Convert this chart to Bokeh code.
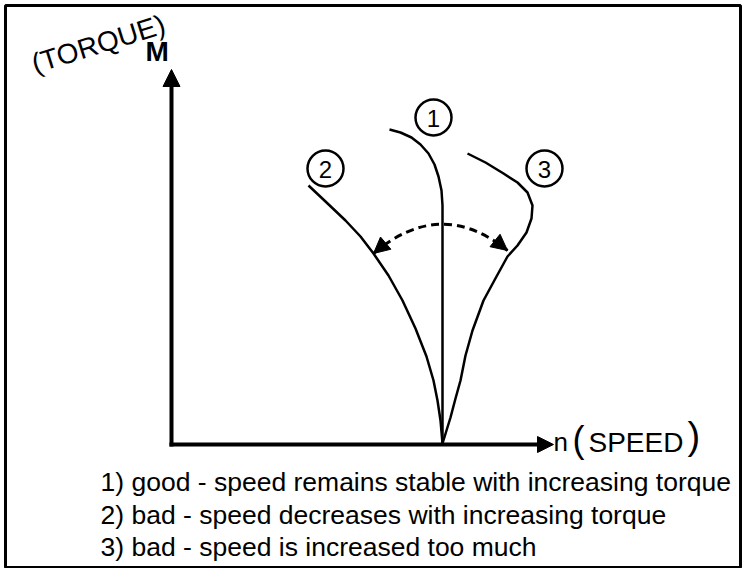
import math
from bokeh.plotting import figure
from bokeh.models import Range1d, Arrow, NormalHead
from bokeh.core.properties import value
from bokeh.embed import file_html
from bokeh.resources import INLINE

# ---- data (diagram coordinates, y grows downward) ----
curve1_x = [389, 400, 411, 420, 428, 434, 438, 441, 442, 442, 442]
curve1_y = [129, 132, 137, 144, 153, 164, 176, 190, 205, 225, 443]

curve2_x = [308, 325, 345, 360, 373, 388, 402, 415, 426, 433, 437, 440, 442]
curve2_y = [185, 201, 220, 236, 253, 275, 300, 328, 356, 380, 400, 420, 443]

curve3_x = [467, 485, 503, 517, 527, 532, 531, 526, 517, 507, 496, 483, 472, 465, 460, 455, 450, 442]
curve3_y = [153, 162, 173, 182, 192, 205, 218, 232, 245, 256, 276, 300, 330, 355, 380, 398, 417, 443]

label_x = [433, 325, 544]
label_y = [117, 168, 168]
label_text = ["1", "2", "3"]

origin = (171, 444)
m_axis_tip = (171, 69)
n_axis_tip = (553, 444)

arc_start = (373, 253)
arc_end = (507, 250)
arc_ctrl = (440, 196)

captions = [
    "1) good - speed remains stable with increasing torque",
    "2) bad - speed decreases with increasing torque",
    "3) bad - speed is increased too much",
]
caption_x = [100, 100, 100]
caption_y = [481, 514, 546]   # vertical centres of the text lines

FONT = value("Liberation Sans")

p = figure(width=742, height=568, x_range=Range1d(5, 740), y_range=Range1d(567, 5),
           output_backend="svg", toolbar_location=None,
           min_border_left=5, min_border_right=2, min_border_top=5, min_border_bottom=1,
           x_axis_location=None, y_axis_location=None)
p.grid.visible = False
p.background_fill_color = "white"
p.border_fill_color = "white"
p.outline_line_color = "black"
p.outline_line_width = 3

# axes with arrows
p.add_layout(Arrow(end=NormalHead(size=17, fill_color="black", line_color="black"),
                   x_start=origin[0], y_start=origin[1] + 2, x_end=m_axis_tip[0], y_end=m_axis_tip[1],
                   line_width=4, line_color="black"))
p.add_layout(Arrow(end=NormalHead(size=16, fill_color="black", line_color="black"),
                   x_start=origin[0] - 2, y_start=origin[1], x_end=n_axis_tip[0], y_end=n_axis_tip[1],
                   line_width=4, line_color="black"))

# curves
p.line(curve1_x, curve1_y, line_width=2.5, color="black")
p.line(curve2_x, curve2_y, line_width=2.5, color="black")
p.line(curve3_x, curve3_y, line_width=2.5, color="black")

# dashed double arrow arc
p.quadratic(x0=[arc_start[0]], y0=[arc_start[1]], x1=[arc_end[0]], y1=[arc_end[1]],
            cx=[arc_ctrl[0]], cy=[arc_ctrl[1]], line_width=3, line_dash="8 5", color="black")
for tip in (arc_start, arc_end):
    dx, dy = tip[0] - arc_ctrl[0], tip[1] - arc_ctrl[1]
    L = math.hypot(dx, dy)
    ux, uy = dx / L, dy / L
    p.add_layout(Arrow(end=NormalHead(size=16, fill_color="black", line_color="black"),
                       x_start=tip[0] - ux * 14, y_start=tip[1] - uy * 14,
                       x_end=tip[0], y_end=tip[1], line_alpha=0))

# numbered circles
p.scatter(x=label_x, y=label_y, marker="circle", size=36, fill_color="white",
          line_color="black", line_width=2.5)
p.text(x=label_x, y=[v + 1 for v in label_y], text=label_text, text_align="center",
       text_baseline="middle", text_font=FONT, text_font_size="24px", text_color="black")

def txt(x, y, s, size, angle=0.0, bold=False):
    p.text(x=x, y=y, text=s, angle=angle, text_align="left", text_baseline="middle",
           text_font=FONT, text_font_size=size, text_color="black",
           text_font_style="bold" if bold else "normal")

# axis labels
txt([145], [51], ["M"], "28px", bold=True)
txt([32], [64], ["(TORQUE)"], "28px", angle=0.3)
txt([553], [441], ["n"], "26px")
txt([572], [439], ["("], "36px")
txt([588], [442], ["SPEED"], "28px")
txt([687], [435], [")"], "38px")

# captions
txt(caption_x, caption_y, captions, "26.5px")

open("out.html", "w").write(file_html(p, INLINE))
